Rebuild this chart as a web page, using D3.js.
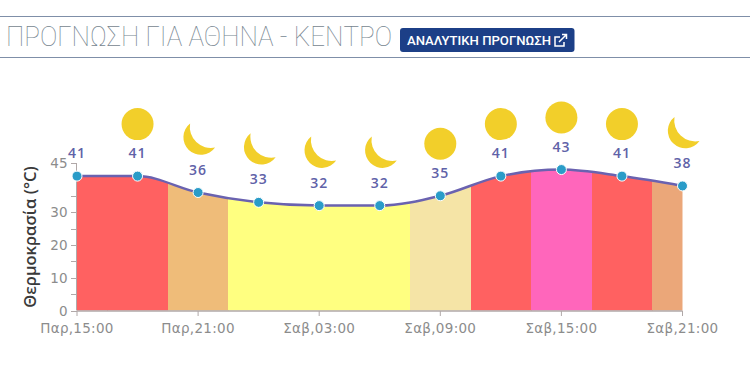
<!DOCTYPE html>
<html>
<head>
<meta charset="utf-8">
<style>
    html, body { margin: 0; padding: 0; background: #fff; }
    svg { display: block; }
    .tick-label { font: 13.5px "DejaVu Sans", sans-serif; fill: #8c8c8c; letter-spacing: 0.3px; }
    .value-label { font: 600 14px "Open Sans", sans-serif; fill: #5f62a8; text-anchor: middle; letter-spacing: 1px; }
</style>
</head>
<body>
<svg id="chart"></svg>
<script src="https://d3js.org/d3.v7.min.js"></script>
<script>
const temps = [41, 41, 36, 33, 32, 32, 35, 41, 43, 41, 38];
const icons = ["none", "sun", "moon", "moon", "moon", "moon", "sun", "sun", "sun", "sun", "moon"];
const bandColors = ["#ff6161", "#ff6161", "#efbc79", "#ffff80", "#ffff80", "#ffff80", "#f5e4a6", "#ff6161", "#ff66bb", "#ff6161", "#eba779"];
const timeLabels = ["Παρ,15:00", "Παρ,21:00", "Σαβ,03:00", "Σαβ,09:00", "Σαβ,15:00", "Σαβ,21:00"];
const majorTicks = [0, 10, 20, 30, 45];
const minorTicks = [5, 15, 25, 35];

const svg = d3.select("#chart").attr("width", 750).attr("height", 375);

// header
svg.append("line").attr("x1", 0).attr("x2", 750).attr("y1", 16.5).attr("y2", 16.5).attr("stroke", "#7f8fa8");
svg.append("line").attr("x1", 0).attr("x2", 750).attr("y1", 57.5).attr("y2", 57.5).attr("stroke", "#7f8fa8");
svg.append("text").attr("x", 6).attr("y", 46)
    .attr("textLength", 386).attr("lengthAdjust", "spacingAndGlyphs")
    .style("font", "100 27px Roboto, sans-serif").style("fill", "#76858f")
    .text("ΠΡΟΓΝΩΣΗ ΓΙΑ ΑΘΗΝΑ - ΚΕΝΤΡΟ");
svg.append("rect").attr("x", 400).attr("y", 28).attr("width", 174.5).attr("height", 24).attr("rx", 3)
    .attr("fill", "#1c3f87");
svg.append("text").attr("x", 407).attr("y", 45)
    .attr("textLength", 144).attr("lengthAdjust", "spacingAndGlyphs")
    .style("font", "500 12.5px Roboto, sans-serif").style("fill", "#fff")
    .text("ΑΝΑΛΥΤΙΚΗ ΠΡΟΓΝΩΣΗ");
// external link glyph
svg.append("path")
    .attr("d", "M560 37h-5v9h9v-4M559 42l7-7M562 34.5h4.5v4.5")
    .attr("fill", "none").attr("stroke", "#fff").attr("stroke-width", 1.5);

// chart
const x = d3.scaleLinear().domain([0, temps.length - 1]).range([77, 682.5]);
const y = d3.scaleLinear().domain([0, 45]).range([310.5, 163]);

const curve = d3.curveMonotoneX;
const area = d3.area().x((d, i) => x(i)).y0(y(0)).y1(d => y(d)).curve(curve);
const line = d3.line().x((d, i) => x(i)).y(d => y(d)).curve(curve);

svg.append("clipPath").attr("id", "under-line").append("path").attr("d", area(temps));

// one colour band around each point, from midpoint to midpoint
svg.append("g").attr("clip-path", "url(#under-line)").attr("shape-rendering", "crispEdges")
    .selectAll("rect").data(temps).enter().append("rect")
    .attr("x", (d, i) => x(Math.max(i - 0.5, 0)))
    .attr("width", (d, i) => x(Math.min(i + 0.5, temps.length - 1)) - x(Math.max(i - 0.5, 0)) + 0.5)
    .attr("y", y(45)).attr("height", y(0) - y(45))
    .attr("fill", (d, i) => bandColors[i]);

// axes
const axisColor = "#b0a8a8";
const yAxis = svg.append("g").attr("stroke", axisColor).attr("stroke-width", 1);
yAxis.append("line").attr("x1", x(0) - 0.5).attr("x2", x(0) - 0.5).attr("y1", y(45)).attr("y2", y(0));
yAxis.selectAll(".major").data(majorTicks).enter().append("line").attr("class", "major")
    .attr("x1", 71).attr("x2", x(0)).attr("y1", d => Math.round(y(d)) + 0.5).attr("y2", d => Math.round(y(d)) + 0.5);
yAxis.selectAll(".minor").data(minorTicks).enter().append("line").attr("class", "minor")
    .attr("x1", 71).attr("x2", x(0)).attr("y1", d => Math.round(y(d)) + 0.5).attr("y2", d => Math.round(y(d)) + 0.5);
svg.selectAll(".y-label").data(majorTicks).enter().append("text")
    .attr("class", "tick-label y-label")
    .attr("x", 68).attr("y", d => y(d) + 5).attr("text-anchor", "end").text(d => d);

svg.append("line").attr("x1", x(0)).attr("x2", x(10)).attr("y1", 311).attr("y2", 311)
    .attr("stroke", axisColor).attr("stroke-width", 1.5);
svg.selectAll(".x-tick").data(timeLabels).enter().append("line").attr("class", "x-tick")
    .attr("x1", (d, i) => x(i * 2)).attr("x2", (d, i) => x(i * 2))
    .attr("y1", 311).attr("y2", 316).attr("stroke", axisColor);
svg.selectAll(".x-label").data(timeLabels).enter().append("text")
    .attr("class", "tick-label x-label")
    .attr("x", (d, i) => x(i * 2)).attr("y", 333).attr("text-anchor", "middle").text(d => d);

svg.append("text")
    .attr("transform", "translate(36,237) rotate(-90)")
    .attr("text-anchor", "middle")
    .style("font", "600 16.5px 'Open Sans', sans-serif").style("fill", "#3a3a3a")
    .text("Θερμοκρασία (°C)");

// line and markers
svg.append("path").attr("d", line(temps)).attr("fill", "none")
    .attr("stroke", "#6a62b0").attr("stroke-width", 2.5);
svg.selectAll(".dot").data(temps).enter().append("circle").attr("class", "dot")
    .attr("cx", (d, i) => x(i)).attr("cy", d => y(d)).attr("r", 5)
    .attr("fill", "#2a9cc8").attr("stroke", "#fff").attr("stroke-width", 1);

svg.selectAll(".value-label").data(temps).enter().append("text").attr("class", "value-label")
    .attr("x", (d, i) => x(i)).attr("y", d => y(d) - 18).text(d => d);

// weather icons sit a fixed distance over the point
const icon = svg.selectAll(".icon").data(temps).enter().append("g").attr("class", "icon")
    .attr("transform", (d, i) => "translate(" + x(i) + "," + (y(d) - 52) + ")");
icon.filter((d, i) => icons[i] === "sun").append("circle").attr("r", 16).attr("fill", "#f2cf2a");
icon.filter((d, i) => icons[i] === "moon").append("path")
    .attr("d", "M-8,-17 A17.5,17.5 0 1 0 17,7 A21,21 0 0 1 -8,-17 Z")
    .attr("fill", "#f2cf2a");
</script>
</body>
</html>
